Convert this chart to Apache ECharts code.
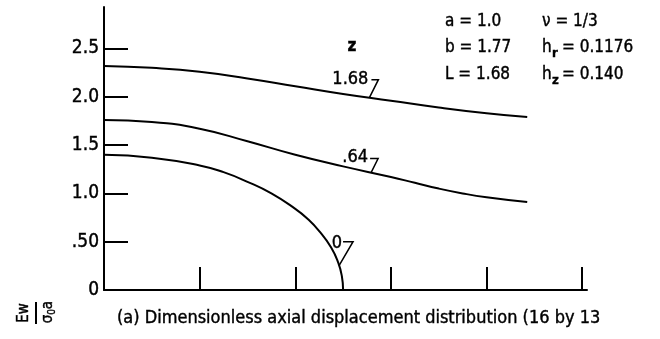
<!DOCTYPE html>
<html>
<head>
<meta charset="utf-8">
<script src="https://cdn.jsdelivr.net/npm/echarts@6/dist/echarts.min.js"></script>
<style>
  html, body { margin: 0; padding: 0; background: #fff; }
  #chart { width: 660px; height: 339px; }
</style>
</head>
<body>
<div id="chart"></div>
<script>
// Dimensionless axial displacement Ew/(sigma0 a) versus radius, one curve per axial station z.
const FONT = "'DejaVu Sans Condensed', 'Liberation Sans Narrow', 'DejaVu Sans', sans-serif";

// z = 1.68
const rZ168 = [0, 0.2, 0.4, 0.6, 0.8, 1.0, 1.2, 1.4, 1.6, 1.77];
const wZ168 = [2.32, 2.30, 2.26, 2.19, 2.11, 2.03, 1.96, 1.89, 1.83, 1.79];
// z = .64
const rZ064 = [0, 0.2, 0.4, 0.6, 0.8, 1.0, 1.2, 1.3, 1.4, 1.5, 1.6, 1.77];
const wZ064 = [1.76, 1.74, 1.67, 1.54, 1.40, 1.28, 1.17, 1.11, 1.05, 1.00, 0.96, 0.91];
// z = 0 (crack plane, closes at r = a)
const rZ000 = [0, 0.2, 0.4, 0.5, 0.6, 0.7, 0.8, 0.85, 0.9, 0.95, 0.98, 0.995, 1.0];
const wZ000 = [1.40, 1.37, 1.29, 1.22, 1.12, 1.00, 0.84, 0.74, 0.61, 0.44, 0.28, 0.14, 0];

const zLabels = ['1.68', '.64', '0'];
const labelAtR = [1.11, 1.117, 0.983];

const yTickValues = [0, 0.5, 1.0, 1.5, 2.0, 2.5];
const yTickLabels = ['0', '.50', '1.0', '1.5', '2.0', '2.5'];
const xTickValues = [0.4, 0.8, 1.2, 1.6, 2.0];

const paramsLeft = ['a = 1.0', 'b = 1.77', 'L = 1.68'];
const caption = '(a) Dimensionless axial displacement distribution (16 by 13';

const curves = [[rZ168, wZ168], [rZ064, wZ064], [rZ000, wZ000]];
const zip = (xs, ys) => xs.map((x, i) => [x, ys[i]]);
function interp(xs, ys, x) {
  for (let i = 1; i < xs.length; i++) {
    if (x <= xs[i]) {
      const t = (x - xs[i - 1]) / (xs[i] - xs[i - 1]);
      return ys[i - 1] + t * (ys[i] - ys[i - 1]);
    }
  }
  return ys[ys.length - 1];
}

const chart = echarts.init(document.getElementById('chart'), null, { renderer: 'canvas' });

const black = '#000';
// slight outline thickens the glyphs a little
const ink = { fill: black, stroke: black, lineWidth: 0.4 };

chart.setOption({
  animation: false,
  backgroundColor: '#fff',
  grid: { left: 104, right: 73, top: 7, bottom: 49, containLabel: false },
  xAxis: {
    type: 'value', min: 0, max: 2.02,
    axisLine: { show: true, lineStyle: { color: black, width: 2 } },
    axisTick: { show: true, inside: true, length: 23, customValues: xTickValues,
                lineStyle: { color: black, width: 2 } },
    axisLabel: { show: false },
    splitLine: { show: false }
  },
  yAxis: {
    type: 'value', min: 0, max: 2.93,
    axisLine: { show: true, lineStyle: { color: black, width: 2 } },
    axisTick: { show: true, inside: true, length: 24, customValues: yTickValues.slice(1),
                lineStyle: { color: black, width: 2 } },
    axisLabel: {
      show: true, customValues: yTickValues, margin: 5,
      color: black, fontSize: 19, fontFamily: FONT,
      textBorderColor: black, textBorderWidth: 0.4,
      formatter: v => yTickLabels[yTickValues.findIndex(t => Math.abs(t - v) < 1e-6)]
    },
    splitLine: { show: false }
  },
  series: curves.map(([xs, ys], i) => ({
    name: 'z = ' + zLabels[i],
    type: 'line',
    data: zip(xs, ys),
    showSymbol: false,
    smooth: 0.5,
    silent: true,
    lineStyle: { color: black, width: 2 }
  }))
});

function txt(x, y, text, size, extra) {
  return {
    type: 'text', silent: true, x: x, y: y,
    style: Object.assign({ text: text, fontSize: size, fontFamily: FONT,
                           align: 'left', verticalAlign: 'middle' }, ink, extra || {})
  };
}

// Curve labels with their small leader strokes
const leaderShapes = [
  { bar: [[2, -18], [9, -18]], text: [-1, -18] },
  { bar: [[-1, -14], [7, -14]], text: [-3, -15] },
  { bar: [[4, -24], [14, -24]], text: [3, -22] }
];
const graphics = [];
curves.forEach(([xs, ys], i) => {
  const r = labelAtR[i];
  const p = chart.convertToPixel({ xAxisIndex: 0, yAxisIndex: 0 }, [r, interp(xs, ys, r)]);
  const s = leaderShapes[i];
  graphics.push({
    type: 'polyline', silent: true,
    shape: { points: [[p[0] + s.bar[0][0], p[1] + s.bar[0][1]],
                      [p[0] + s.bar[1][0], p[1] + s.bar[1][1]],
                      [p[0], p[1]]] },
    style: { stroke: black, lineWidth: 1.5, fill: null }
  });
  graphics.push(txt(p[0] + s.text[0], p[1] + s.text[1], zLabels[i], 18, { align: 'right' }));
});

// Column heading for the curve labels
graphics.push(txt(352, 47, 'z', 17, { fontWeight: 'bold', align: 'center' }));

// Parameter block
const rowY = [22, 48, 75];
paramsLeft.forEach((t, i) => graphics.push(txt(445, rowY[i], t, 17)));
graphics.push(txt(542, rowY[0], 'ν = 1/3', 17));
[['r', '= 0.1176'], ['z', '= 0.140']].forEach(([sub, rest], k) => {
  const y = rowY[k + 1];
  graphics.push(txt(542, y, 'h', 17));
  graphics.push(txt(552, y + 6, sub, 13, { fontWeight: 'bold' }));
  graphics.push(txt(562, y, rest, 17));
});

// Caption
graphics.push(txt(117, 318, caption, 18));

// Rotated ordinate title  Ew / (sigma0 a)
graphics.push({
  type: 'group', x: 36, y: 313, rotation: Math.PI / 2, silent: true,
  children: [
    txt(0, -12, 'Ew', 15, { align: 'center' }),
    { type: 'line', shape: { x1: -11, y1: 0, x2: 11, y2: 0 }, style: { stroke: black, lineWidth: 2 } },
    txt(-6, 12, 'σ', 15, { align: 'center' }),
    txt(1, 16, '0', 10, { align: 'center' }),
    txt(8, 12, 'a', 15, { align: 'center' })
  ]
});

chart.setOption({ graphic: graphics });
</script>
</body>
</html>
